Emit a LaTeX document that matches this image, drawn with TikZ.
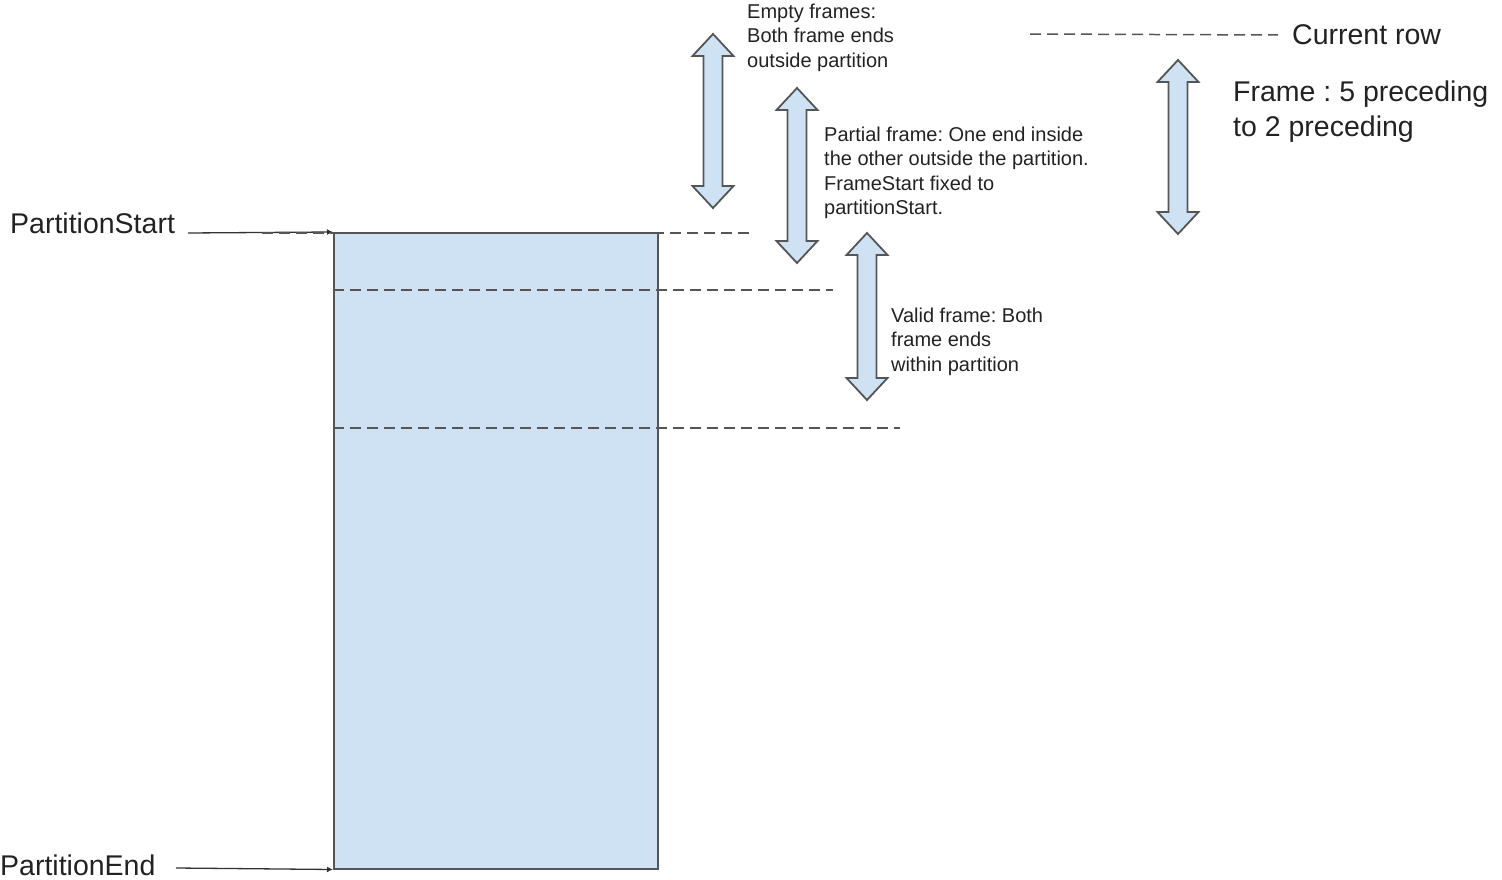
\documentclass[tikz,border=0pt]{standalone}
\usepackage{fontspec}
\setmainfont{Liberation Sans}
\usetikzlibrary{arrows.meta}
\frenchspacing
\definecolor{partblue}{HTML}{CFE2F3}
\definecolor{edgegray}{HTML}{555555}
\definecolor{txt}{HTML}{222222}
\newcommand\blockarrow[3]{%
  \draw[barrow] (#1,#2) -- ({#1+20.5},{#2+22}) -- ({#1+9.5},{#2+22}) -- ({#1+9.5},{#3-22})
    -- ({#1+20.5},{#3-22}) -- (#1,#3) -- ({#1-20.5},{#3-22}) -- ({#1-9.5},{#3-22})
    -- ({#1-9.5},{#2+22}) -- ({#1-20.5},{#2+22}) -- cycle;}
\begin{document}
\begin{tikzpicture}[x=1pt,y=-1pt,
  barrow/.style={draw=edgegray, fill=partblue, line width=1.8pt, line join=miter},
  dline/.style={draw=edgegray, line width=1.5pt, dash pattern=on 11pt off 6pt},
  bigtxt/.style={text=txt, font=\fontsize{28.5}{35}\selectfont, inner sep=0pt, align=left},
  smalltxt/.style={text=txt, font=\fontsize{20}{24.5}\selectfont, inner sep=0pt, align=left},
  pointer/.style={draw=black!80, line width=1.3pt, -{Latex[length=6pt,width=6pt]}}]
\useasboundingbox (0,0) rectangle (1502,880);
% partition rectangle
\node[draw=edgegray, fill=partblue, line width=1.5pt, minimum width=324pt, minimum height=636pt,
  anchor=north west, inner sep=0pt] (part) at (333,232) {};
% labels
\node[bigtxt, anchor=west] (ps) at (10,223) {PartitionStart};
\node[bigtxt, anchor=west] (pe) at (0,865) {PartitionEnd};
\coordinate (psl) at (188,233);
\coordinate (pel) at (176,868);
\draw[pointer] (psl) -- (part.north west);
\draw[pointer] (pel) -- (part.south west);
% dashed rows
\coordinate (d1a) at (262,233); \coordinate (d1b) at (750,233);
\coordinate (d2a) at (333,290); \coordinate (d2b) at (833,290);
\coordinate (d3a) at (333,428); \coordinate (d3b) at (900,428);
\draw[dline] (d1a) -- (d1b);
\draw[dline] (d2a) -- (d2b);
\draw[dline] (d3a) -- (d3b);
% current row
\node[bigtxt, anchor=west] (cr) at (1292,35) {Current row};
\coordinate (cra) at (1030,34);
\draw[dline] (cra) -- ([xshift=-14pt]cr.west);
% block arrows
\blockarrow{713}{34}{208}
\blockarrow{797}{88}{263}
\blockarrow{867}{233}{400}
\blockarrow{1178}{60}{234}
% texts
\node[smalltxt, anchor=west] (empty) at (747,37.5) {Empty frames:\\Both frame ends\\outside partition};
\node[smalltxt, anchor=west] (partial) at (824,173) {Partial frame: One end inside\\the other outside the partition.\\FrameStart fixed to\\partitionStart.};
\node[smalltxt, anchor=west] (valid) at (891,341.5) {Valid frame: Both\\frame ends\\within partition};
\node[bigtxt, anchor=west] (frame) at (1233,112) {Frame : 5 preceding\\to 2 preceding};
\end{tikzpicture}
\end{document}
